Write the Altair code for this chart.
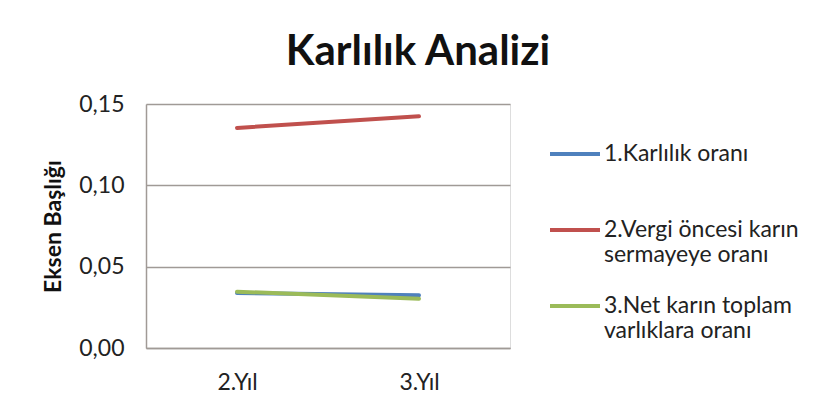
import altair as alt
import pandas as pd

years = ["2.Yıl", "3.Yıl"]
series_names = [
    "1.Karlılık oranı\n",
    "2.Vergi öncesi karın\nsermayeye oranı",
    "3.Net karın toplam\nvarlıklara oranı",
]
karlilik = [0.0338, 0.0324]
vergi_oncesi = [0.1353, 0.1424]
net_karin = [0.0346, 0.0303]
colors = ["#4F81BD", "#C0504D", "#9BBB59"]
y_ticks = [0.0, 0.05, 0.10, 0.15]

rows = []
for name, vals in zip(series_names, [karlilik, vergi_oncesi, net_karin]):
    for yr, v in zip(years, vals):
        rows.append({"Yıl": yr, "Seri": name, "Değer": v})
df = pd.DataFrame(rows)

FONT = "Lato"

chart = (
    alt.Chart(df)
    .mark_line(strokeWidth=4, strokeCap="round")
    .encode(
        x=alt.X(
            "Yıl:N",
            sort=years,
            scale=alt.Scale(paddingOuter=0.5, paddingInner=1),
            axis=alt.Axis(
                title=None,
                labelAngle=0,
                ticks=False,
                domainColor="#a09a96",
                domainWidth=1.5,
                labelFont=FONT,
                labelFontSize=23,
                labelColor="#222222",
                labelPadding=23,
                grid=False,
            ),
        ),
        y=alt.Y(
            "Değer:Q",
            scale=alt.Scale(domain=[0, 0.15], nice=False),
            axis=alt.Axis(
                title="Eksen Başlığı",
                values=y_ticks,
                format=".2f",
                labelExpr="replace(datum.label, '.', ',')",
                ticks=False,
                domainColor="#a09a96",
                domainWidth=1.5,
                gridColor="#a09a96",
                gridWidth=1.5,
                labelFont=FONT,
                labelFontSize=23,
                labelColor="#222222",
                labelPadding=22,
                titleFont=FONT,
                titleFontSize=23,
                titleFontWeight="bold",
                titleColor="#111111",
                titlePadding=13,
            ),
        ),
        color=alt.Color(
            "Seri:N",
            sort=series_names,
            scale=alt.Scale(domain=series_names, range=colors),
            legend=alt.Legend(
                title=None,
                orient="none",
                legendX=402,
                legendY=23,
                symbolType="stroke",
                symbolSize=2500,
                symbolStrokeWidth=4,
                labelFont=FONT,
                labelFontSize=23,
                labelColor="#222222",
                labelOffset=2,
                labelLimit=300,
                labelExpr="split(datum.label, '\\n')",
                rowPadding=12,
            ),
        ),
    )
    .properties(
        width=364,
        height=244,
        title=alt.TitleParams(
            "Karlılık Analizi",
            font=FONT,
            fontSize=42,
            fontWeight="bold",
            color="#111111",
            anchor="middle",
            dx=90,
            offset=19,
        ),
        autosize=alt.AutoSizeParams(type="none"),
        padding={"left": 138, "top": 96, "right": 290, "bottom": 50},
    )
    .configure_view(stroke=None)
    .configure(background="white")
)

chart.save("out.html", embed_options={"renderer": "svg", "actions": False})
